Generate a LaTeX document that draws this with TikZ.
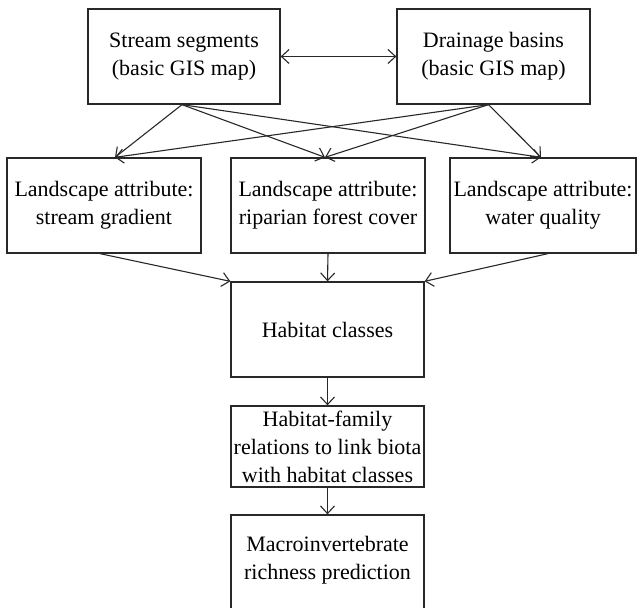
\documentclass[tikz,border=0pt]{standalone}
\usepackage{fontspec}
\setmainfont{Liberation Serif}
\usepackage{tikz}
\usetikzlibrary{arrows.meta}
\usetikzlibrary{positioning,calc}
\definecolor{boxgray}{RGB}{40,40,40}

\begin{document}
\begin{tikzpicture}[x=0.5pt,y=-0.5pt,
    box/.style={draw=boxgray,line width=0.65pt,align=center,inner sep=0pt,
                font=\fontsize{11}{14}\selectfont,minimum height=47.5pt},
    arr/.style={-{Straight Barb[length=3.8pt,width=7pt]},line width=0.55pt,boxgray}]
    \useasboundingbox (0,0) rectangle (638,608);
    % the two base maps
    \node[box,minimum width=96pt] (seg) at (184,56.5) {Stream segments\\(basic GIS map)};
    \node[box,minimum width=96.5pt] (basin) at (493.5,56.5) {Drainage basins\\(basic GIS map)};
    \draw[arr,{Straight Barb[length=3.8pt,width=7pt]}-{Straight Barb[length=3.8pt,width=7pt]}]
      (seg.east) -- (basin.west);
    % landscape attributes
    \node[box,minimum width=97pt] (grad) at (104,205.5) {Landscape attribute:\\stream gradient};
    \node[box,minimum width=97pt] (ripar) at (328,205.5) {Landscape attribute:\\riparian forest cover};
    \node[box,minimum width=93pt] (water) at (543,205.5) {Landscape attribute:\\water quality};
    \draw[arr] ([xshift=-1pt]seg.south) -- ([xshift=5.5pt]grad.north);
    \draw[arr] ([xshift=-1pt]seg.south) -- ([xshift=-1.5pt]ripar.north);
    \draw[arr] ([xshift=-1pt]seg.south) -- ([xshift=-1pt]water.north);
    \draw[arr] ([xshift=-2.5pt]basin.south) -- ([xshift=5.5pt]grad.north);
    \draw[arr] ([xshift=-2.5pt]basin.south) -- ([xshift=-1.5pt]ripar.north);
    \draw[arr] ([xshift=-2.5pt]basin.south) -- ([xshift=-1pt]water.north);
    % habitat chain
    \node[box,minimum width=96.5pt] (hab) at (327.5,329.5) {Habitat classes};
    \node[box,minimum width=96.5pt,minimum height=40.5pt] (rel) at (327.5,446.5)
      {Habitat-family\\relations to link biota\\with habitat classes};
    \node[box,minimum width=96.5pt,text depth=5pt] (macro) at (327.5,562.5)
      {Macroinvertebrate\\richness prediction};
    \draw[arr] ([xshift=-2pt]grad.south) -- (hab.north west);
    \draw[arr] (ripar.south) -- (hab.north);
    \draw[arr] ([xshift=2.5pt]water.south) -- (hab.north east);
    \draw[arr] (hab.south) -- (rel.north);
    \draw[arr] (rel.south) -- (macro.north);
  \end{tikzpicture}
\end{document}
